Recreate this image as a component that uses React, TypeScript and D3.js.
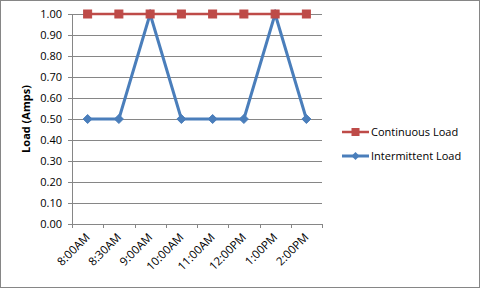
import React from "react";
import * as d3 from "d3";

const categories = ["8:00AM", "8:30AM", "9:00AM", "10:00AM", "11:00AM", "12:00PM", "1:00PM", "2:00PM"];
const continuousLoad = [1, 1, 1, 1, 1, 1, 1, 1];
const intermittentLoad = [0.5, 0.5, 1, 0.5, 0.5, 0.5, 1, 0.5];
const yTicks = [0, 0.1, 0.2, 0.3, 0.4, 0.5, 0.6, 0.7, 0.8, 0.9, 1.0];

const W = 481, H = 289;
const L = 72, R = 322, T = 14, B = 224;
const RED = "#BE4B48", BLUE = "#4A7EBB";
const FONT = "'Open Sans', 'DejaVu Sans', sans-serif";

export default function App() {
  const x = d3.scaleBand<string>().domain(categories).range([L, R]);
  const y = d3.scaleLinear().domain([0, 1]).range([B, T]);
  const cx = (c: string) => (x(c) as number) + x.bandwidth() / 2;
  const line = d3.line<number>().x((_, i) => cx(categories[i])).y((d) => y(d));
  const diamond = (px: number, py: number, r: number) =>
    `M${px},${py - r}L${px + r},${py}L${px},${py + r}L${px - r},${py}Z`;

  return (
    <svg width={W} height={H} style={{ position: "absolute", left: 0, top: 0, background: "#fff" }} fontFamily={FONT}>
      <rect x={0.5} y={0.5} width={W - 2} height={H - 2} fill="#fff" stroke="#868686" strokeWidth={1} />
      {yTicks.map((t) => (
        <g key={t}>
          <line x1={L - 4} x2={R} y1={Math.round(y(t)) + 0.5} y2={Math.round(y(t)) + 0.5} stroke="#868686" strokeWidth={1} />
          <text x={L - 10} y={y(t)} dy="0.35em" textAnchor="end" fontSize={11} fill="#000">
            {t.toFixed(2)}
          </text>
        </g>
      ))}
      <line x1={L + 0.5} x2={L + 0.5} y1={T} y2={B + 4} stroke="#868686" />
      {categories.map((c, i) => (
        <line key={"tk" + i} x1={Math.round((x(c) as number) + x.bandwidth()) + 0.5} x2={Math.round((x(c) as number) + x.bandwidth()) + 0.5} y1={B} y2={B + 4} stroke="#868686" />
      ))}
      {categories.map((c) => (
        <text key={"xl" + c} transform={`translate(${cx(c) + 3},${B + 14}) rotate(-45)`} textAnchor="end" fontSize={11.5} fill="#000">
          {c}
        </text>
      ))}
      <text transform={`translate(30,${(T + B) / 2}) rotate(-90)`} textAnchor="middle" fontSize={11} fontWeight="bold" fill="#000">
        Load (Amps)
      </text>
      <path d={line(intermittentLoad) as string} fill="none" stroke={BLUE} strokeWidth={3} strokeLinejoin="round" />
      {intermittentLoad.map((v, i) => (
        <path key={"d" + i} d={diamond(cx(categories[i]), y(v), 4.5)} fill={BLUE} stroke={BLUE} />
      ))}
      <path d={line(continuousLoad) as string} fill="none" stroke={RED} strokeWidth={2.5} />
      {continuousLoad.map((v, i) => (
        <rect key={"s" + i} x={cx(categories[i]) - 4} y={y(v) - 4} width={8} height={8} fill={RED} stroke={RED} />
      ))}
      <g>
        <line x1={342} x2={369} y1={132} y2={132} stroke={RED} strokeWidth={2.5} />
        <rect x={351.5} y={128} width={8} height={8} fill={RED} />
        <text x={371} y={132} dy="0.35em" fontSize={11} fill="#000">Continuous Load</text>
        <line x1={342} x2={369} y1={156} y2={156} stroke={BLUE} strokeWidth={3} />
        <path d={diamond(355.5, 156, 4)} fill={BLUE} />
        <text x={371} y={156} dy="0.35em" fontSize={11} fill="#000">Intermittent Load</text>
      </g>
    </svg>
  );
}
